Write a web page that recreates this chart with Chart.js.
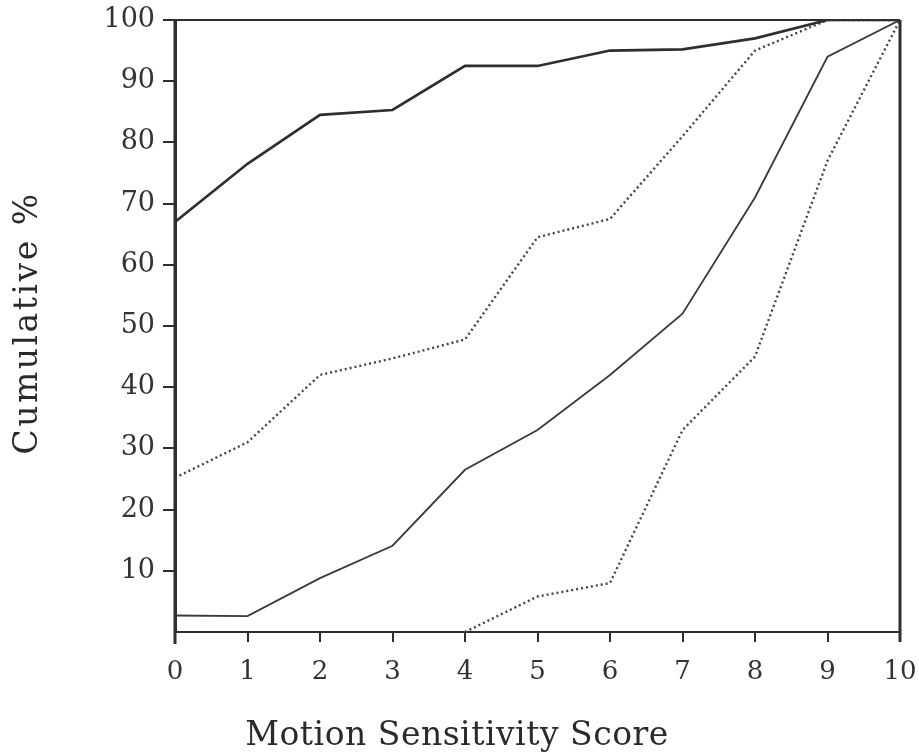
<!DOCTYPE html>
<html>
<head>
<meta charset="utf-8">
<script src="https://cdn.jsdelivr.net/npm/chart.js@4/dist/chart.umd.min.js"></script>
<style>
  html, body { margin: 0; padding: 0; background: #fff; }
  #wrap { width: 919px; height: 755px; }
</style>
</head>
<body>
<div id="wrap"><canvas id="chart"></canvas></div>
<script>
// score 0..10 on the x axis, cumulative % on y
const scores = [0, 1, 2, 3, 4, 5, 6, 7, 8, 9, 10];
const groupA = [67, 76.5, 84.5, 85.3, 92.5, 92.5, 95, 95.2, 97, 100, 100];
const groupB = [25.2, 31, 42, 44.7, 47.8, 64.5, 67.5, 81, 95, 100, 100];
const groupC = [2.7, 2.6, 8.8, 14.1, 26.5, 33, 42, 52, 71, 94, 100];
const groupD = [null, null, null, null, 0, 5.8, 8, 33, 45, 77, 100];

const yTicks = [10, 20, 30, 40, 50, 60, 70, 80, 90, 100];
const xLabel = 'Motion Sensitivity Score';
const yLabel = 'Cumulative %';

const ink = '#2e2e2e';
const textInk = '#333';
const font = 'DejaVu Serif';

function toPoints(vals) {
  return scores.map((s, i) => ({ x: s, y: vals[i] }));
}

// box around the plot area, left axis run-out below the baseline
const frame = {
  id: 'frame',
  afterDatasetsDraw(chart) {
    const { ctx, chartArea: a } = chart;
    ctx.save();
    ctx.strokeStyle = ink;
    ctx.lineWidth = 2;
    ctx.beginPath();
    ctx.moveTo(a.left, a.top);
    ctx.lineTo(a.right, a.top);
    ctx.stroke();
    ctx.lineWidth = 3;
    ctx.beginPath();
    ctx.moveTo(a.right, a.top);
    ctx.lineTo(a.right, a.bottom + 10);
    ctx.stroke();
    ctx.beginPath();
    ctx.moveTo(a.left, a.top);
    ctx.lineTo(a.left, a.bottom + 12);
    ctx.stroke();
    ctx.restore();
  }
};

// axis titles, drawn by hand so the spacing can be set
const axisTitles = {
  id: 'axisTitles',
  afterDraw(chart) {
    const { ctx, chartArea: a } = chart;
    ctx.save();
    ctx.fillStyle = '#2a2a2a';
    ctx.textAlign = 'center';
    ctx.textBaseline = 'middle';

    ctx.font = '33px "' + font + '"';
    ctx.letterSpacing = '0.5px';
    ctx.fillText(xLabel, a.left + 282, a.bottom + 104);

    ctx.font = '33px "' + font + '"';
    ctx.letterSpacing = '2.5px';
    ctx.translate(28, (a.top + a.bottom) / 2 - 3);
    ctx.rotate(-Math.PI / 2);
    ctx.fillText(yLabel, 0, 0);
    ctx.restore();
  }
};

new Chart(document.getElementById('chart'), {
  type: 'line',
  data: {
    datasets: [
      { data: toPoints(groupA), borderColor: ink, borderWidth: 2.6 },
      { data: toPoints(groupB), borderColor: '#444', borderWidth: 2.4, borderDash: [2, 3] },
      { data: toPoints(groupC), borderColor: '#3a3a3a', borderWidth: 1.8 },
      { data: toPoints(groupD), borderColor: '#444', borderWidth: 2.4, borderDash: [2, 3] }
    ]
  },
  options: {
    responsive: true,
    maintainAspectRatio: false,
    animation: false,
    layout: { padding: { top: 20, right: 19, left: 0, bottom: 0 } },
    elements: { point: { radius: 0 }, line: { tension: 0, fill: false } },
    plugins: { legend: { display: false }, tooltip: { enabled: false } },
    scales: {
      x: {
        type: 'linear',
        min: 0,
        max: 10,
        afterFit: s => { s.height = 123; s.paddingLeft = 0; s.paddingRight = 0; },
        border: { color: ink, width: 2 },
        grid: { drawOnChartArea: false, tickLength: 10, color: ink, lineWidth: 2 },
        ticks: {
          stepSize: 1,
          padding: 15,
          maxRotation: 0,
          color: textInk,
          font: { family: font, size: 26 }
        }
      },
      y: {
        min: 0,
        max: 100,
        afterBuildTicks: s => { s.ticks = yTicks.map(v => ({ value: v })); },
        afterFit: s => { s.width = 175; s.paddingTop = 0; s.paddingBottom = 0; },
        border: { color: ink, width: 3 },
        grid: { drawOnChartArea: false, tickLength: 12, color: ink, lineWidth: 2 },
        ticks: {
          padding: 8,
          color: textInk,
          font: { family: font, size: 27 }
        }
      }
    }
  },
  plugins: [frame, axisTitles]
});
</script>
</body>
</html>
